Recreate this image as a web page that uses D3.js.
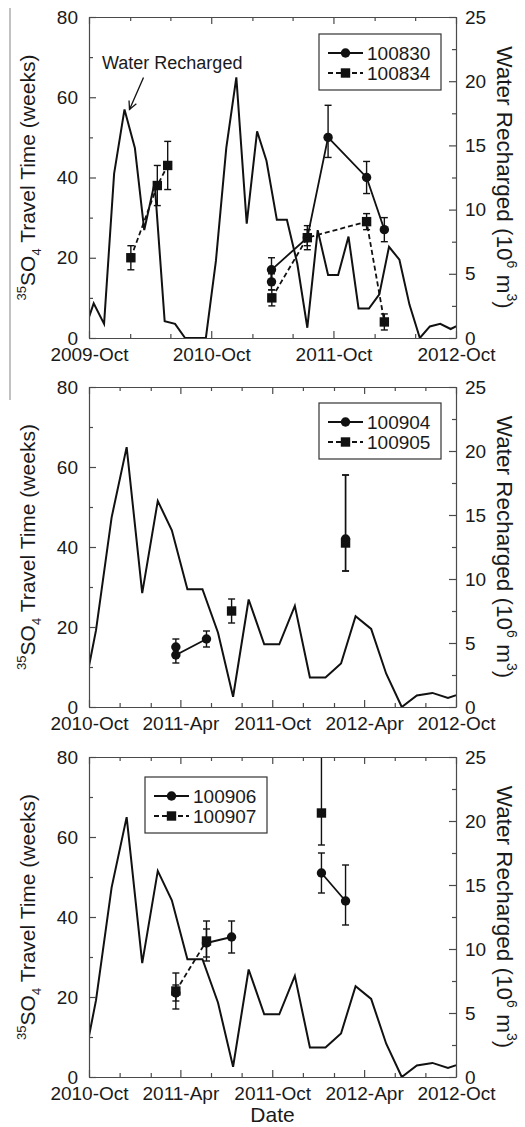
<!DOCTYPE html>
<html>
<head>
<meta charset="utf-8">
<script src="https://cdn.jsdelivr.net/npm/d3@7"></script>
<style>
  body { margin: 0; background: #fff; }
  svg text { font-family: "Liberation Sans", Arial, sans-serif; fill: #1a1a1a; }
</style>
</head>
<body>
<svg id="chart" width="525" height="1127"></svg>
<script>
// Monthly water recharged (10^6 m^3), one value per month (plotted mid-month)
const rechargeMonths = [
  "2009-09", "2009-10", "2009-11", "2009-12", "2010-01", "2010-02", "2010-03", "2010-04",
  "2010-05", "2010-06", "2010-07", "2010-08", "2010-09", "2010-10", "2010-11", "2010-12",
  "2011-01", "2011-02", "2011-03", "2011-04", "2011-05", "2011-06", "2011-07", "2011-08",
  "2011-09", "2011-10", "2011-11", "2011-12", "2012-01", "2012-02", "2012-03", "2012-04",
  "2012-05", "2012-06", "2012-07", "2012-08", "2012-09", "2012-10"
];
const rechargeValues = [
  0.4, 2.7, 1.1, 12.8, 17.8, 14.8, 8.4, 12.1,
  1.3, 1.1, 0, 0, 0, 6.0, 14.8, 20.3,
  8.9, 16.1, 13.8, 9.2, 9.2, 5.8, 0.8, 8.4,
  4.9, 4.9, 7.9, 2.3, 2.3, 3.4, 7.1, 6.1,
  2.6, 0, 0.9, 1.1, 0.7, 1.1
];

// 35SO4 travel time (weeks); null splits a line
const dates100830 = ["2011-03-30", "2011-03-30", "2011-07-15", "2011-09-15", "2012-01-08", "2012-03-01"];
const weeks100830 = [14, 17, 25, 50, 40, 27];
const lo100830 = [12, 14, 23, 45, 36, 24];
const hi100830 = [16, 20, 27, 58, 44, 30];

const dates100834 = ["2010-02-03", "2010-04-23", "2010-05-24", null, "2011-03-31", "2011-07-15", "2012-01-08", "2012-03-01"];
const weeks100834 = [20, 38, 43, null, 10, 25, 29, 4];
const lo100834 = [17, 33, 37, null, 8, 22, 27, 2];
const hi100834 = [23, 43, 49, null, 12, 28, 31, 6];

const dates100904 = ["2011-03-23", "2011-03-23", "2011-05-23", null, "2012-02-24"];
const weeks100904 = [15, 13, 17, null, 42];
const lo100904 = [13, 11, 15, null, 34];
const hi100904 = [17, 15, 19, null, 58];

const dates100905 = ["2011-07-12", null, "2012-02-24"];
const weeks100905 = [24, null, 41];
const lo100905 = [21, null, 34];
const hi100905 = [27, null, 58];

const dates100906 = ["2011-03-23", null, "2011-05-23", "2011-07-12", null, "2012-01-07", "2012-02-24"];
const weeks100906 = [21, null, 33.5, 35, null, 51, 44];
const lo100906 = [19, null, 30, 31, null, 46, 38];
const hi100906 = [23, null, 37, 39, null, 56, 53];

const dates100907 = ["2011-03-23", "2011-05-23", null, "2012-01-07"];
const weeks100907 = [21.5, 34, null, 66];
const lo100907 = [17, 29, null, 58];
const hi100907 = [26, 39, null, 88];

const parse = d3.timeParse("%Y-%m-%d");
const fmt = d3.timeFormat("%Y-%b");

const recharge = rechargeMonths.map((m, i) => ({ date: parse(m + "-15"), value: rechargeValues[i] }));

function makeSeries(name, shape, dates, vals, lo, hi) {
  return {
    name, shape,
    points: dates.map((d, i) => d === null ? null : { date: parse(d), value: vals[i], lo: lo[i], hi: hi[i] })
  };
}

const panels = [
  { top: 17, bottom: 338, start: "2009-10-01", end: "2012-10-01", tickStep: 4, labelStep: 12, legend: [319, 34],
    series: [makeSeries("100830", "circle", dates100830, weeks100830, lo100830, hi100830),
             makeSeries("100834", "square", dates100834, weeks100834, lo100834, hi100834)], note: true },
  { top: 387, bottom: 707, start: "2010-10-01", end: "2012-10-01", tickStep: 2, labelStep: 6, legend: [319, 403],
    series: [makeSeries("100904", "circle", dates100904, weeks100904, lo100904, hi100904),
             makeSeries("100905", "square", dates100905, weeks100905, lo100905, hi100905)] },
  { top: 757, bottom: 1077, start: "2010-10-01", end: "2012-10-01", tickStep: 2, labelStep: 6, legend: [145, 777],
    series: [makeSeries("100906", "circle", dates100906, weeks100906, lo100906, hi100906),
             makeSeries("100907", "square", dates100907, weeks100907, lo100907, hi100907)] }
];

const L = 89, R = 456;
const svg = d3.select("#chart");
const axisColor = "#4a4a4a";
const ink = "#111";

// stray scan line at the left edge of the original figure
svg.append("line").attr("x1", 10).attr("x2", 10).attr("y1", 8).attr("y2", 400)
  .attr("stroke", "#999").attr("stroke-width", 1.2);

const defs = svg.append("defs");
defs.append("marker").attr("id", "arrow")
  .attr("viewBox", "-10 -6 12 12").attr("refX", 0).attr("refY", 0)
  .attr("markerWidth", 12).attr("markerHeight", 12)
  .attr("markerUnits", "userSpaceOnUse").attr("orient", "auto")
  .append("path").attr("d", "M-8,-4L0,0L-8,4")
  .attr("fill", "none").attr("stroke", ink).attr("stroke-width", 1.3);

function drawMarker(sel, shape, cx, cy) {
  if (shape === "circle") {
    sel.append("circle").attr("cx", cx).attr("cy", cy).attr("r", 4.7).attr("fill", ink);
  } else {
    sel.append("rect").attr("x", cx - 4.7).attr("y", cy - 4.7)
      .attr("width", 9.4).attr("height", 9.4).attr("fill", ink);
  }
}

panels.forEach((p, pi) => {
  const g = svg.append("g");
  const start = parse(p.start), end = parse(p.end);
  const x = d3.scaleTime().domain([start, end]).range([L, R]);
  const y = d3.scaleLinear().domain([0, 80]).range([p.bottom, p.top]);
  const y2 = d3.scaleLinear().domain([0, 25]).range([p.bottom, p.top]);

  const clipId = "clip" + pi;
  defs.append("clipPath").attr("id", clipId)
    .append("rect").attr("x", L).attr("y", p.top).attr("width", R - L).attr("height", p.bottom - p.top);

  const plot = g.append("g").attr("clip-path", `url(#${clipId})`);

  // recharge line
  plot.append("path").datum(recharge)
    .attr("fill", "none").attr("stroke", ink).attr("stroke-width", 2)
    .attr("stroke-linejoin", "miter")
    .attr("d", d3.line().x(d => x(d.date)).y(d => y2(d.value)));

  const line = d3.line().defined(d => d !== null).x(d => x(d.date)).y(d => y(d.value));

  p.series.forEach(s => {
    plot.append("path").datum(s.points)
      .attr("fill", "none").attr("stroke", ink).attr("stroke-width", 1.8)
      .attr("stroke-dasharray", s.shape === "square" ? "5,3" : null)
      .attr("d", line);
  });

  p.series.forEach(s => {
    s.points.filter(d => d !== null).forEach(d => {
      const cx = x(d.date);
      const eb = plot.append("g").attr("stroke", ink).attr("stroke-width", 1.4);
      eb.append("line").attr("x1", cx).attr("x2", cx).attr("y1", y(d.lo)).attr("y2", y(d.hi));
      [d.lo, d.hi].forEach(v => {
        eb.append("line").attr("x1", cx - 3.5).attr("x2", cx + 3.5).attr("y1", y(v)).attr("y2", y(v));
      });
    });
  });

  p.series.forEach(s => {
    s.points.filter(d => d !== null).forEach(d => drawMarker(plot, s.shape, x(d.date), y(d.value)));
  });

  // axes
  const ticks = d3.timeMonth.range(start, d3.timeDay.offset(end, 1)).filter((d, i) => i % p.tickStep === 0);
  const isMajor = d => d3.timeMonth.count(start, d) % p.labelStep === 0;

  const styleAxis = a => {
    a.attr("font-size", 19).attr("font-family", "Liberation Sans, Arial, sans-serif");
    a.select(".domain").attr("stroke", axisColor).attr("stroke-width", 1.2);
    a.selectAll(".tick line").attr("stroke", axisColor).attr("stroke-width", 1.2);
    a.selectAll(".tick text").attr("fill", "#1a1a1a");
  };

  const bottom = g.append("g").attr("transform", `translate(0,${p.bottom})`)
    .call(d3.axisBottom(x).tickValues(ticks).tickSizeInner(-4).tickSizeOuter(0).tickPadding(10)
      .tickFormat(d => isMajor(d) ? fmt(d) : ""));
  bottom.call(styleAxis);
  bottom.selectAll(".tick line").attr("y2", d => isMajor(d) ? -7 : -4);

  const topAx = g.append("g").attr("transform", `translate(0,${p.top})`)
    .call(d3.axisTop(x).tickValues(ticks).tickSizeInner(-4).tickSizeOuter(0).tickFormat(""));
  topAx.call(styleAxis);
  topAx.selectAll(".tick line").attr("y2", d => isMajor(d) ? 7 : 4);

  const left = g.append("g").attr("transform", `translate(${L},0)`)
    .call(d3.axisLeft(y).tickValues(d3.range(0, 81, 10)).tickSizeInner(-4).tickSizeOuter(0).tickPadding(11)
      .tickFormat(d => d % 20 === 0 ? d : ""));
  left.call(styleAxis);
  left.selectAll(".tick line").attr("x2", d => d % 20 === 0 ? 7 : 4);

  const right = g.append("g").attr("transform", `translate(${R},0)`)
    .call(d3.axisRight(y2).tickValues(d3.range(0, 25.01, 2.5)).tickSizeInner(-4).tickSizeOuter(0).tickPadding(9)
      .tickFormat(d => d % 5 === 0 ? d : ""));
  right.call(styleAxis);
  right.selectAll(".tick line").attr("x2", d => d % 5 === 0 ? -7 : -4);

  // axis titles
  const mid = (p.top + p.bottom) / 2;
  const lt = g.append("text").attr("transform", `translate(35,${mid}) rotate(-90)`)
    .attr("text-anchor", "middle").attr("font-size", 21);
  lt.append("tspan").attr("font-size", 13).attr("dy", -9).text("35");
  lt.append("tspan").attr("dy", 9).text("SO");
  lt.append("tspan").attr("font-size", 13).attr("dy", 6).text("4");
  lt.append("tspan").attr("dy", -6).text(" Travel Time (weeks)");

  const rt = g.append("text").attr("transform", `translate(497,${mid}) rotate(90)`)
    .attr("text-anchor", "middle").attr("font-size", 22.5);
  rt.append("tspan").text("Water Recharged (10");
  rt.append("tspan").attr("font-size", 14).attr("dy", -10).text("6");
  rt.append("tspan").attr("dy", 10).text(" m");
  rt.append("tspan").attr("font-size", 14).attr("dy", -10).text("3");
  rt.append("tspan").attr("dy", 10).text(")");

  // legend
  const [lx, ly] = p.legend;
  const lg = g.append("g");
  lg.append("rect").attr("x", lx).attr("y", ly).attr("width", 122).attr("height", 56)
    .attr("fill", "#fff").attr("stroke", "#333").attr("stroke-width", 1.2);
  p.series.forEach((s, i) => {
    const cy = ly + 19 + i * 20;
    lg.append("line").attr("x1", lx + 9).attr("x2", lx + 44).attr("y1", cy).attr("y2", cy)
      .attr("stroke", ink).attr("stroke-width", 1.8)
      .attr("stroke-dasharray", s.shape === "square" ? "5,3" : null);
    drawMarker(lg, s.shape, lx + 26.5, cy);
    lg.append("text").attr("x", lx + 48).attr("y", cy).attr("dy", "0.36em")
      .attr("font-size", 19).text(s.name);
  });

  // annotation pointing at the recharge peak
  if (p.note) {
    const peak = recharge.filter(d => d.date >= start).reduce((a, b) => (b.value > a.value && b.date < parse("2010-06-01")) ? b : a);
    const tipX = x(peak.date) + 5, tipY = y2(peak.value);
    g.append("line").attr("x1", tipX + 14).attr("y1", tipY - 32).attr("x2", tipX).attr("y2", tipY)
      .attr("stroke", ink).attr("stroke-width", 1.3).attr("marker-end", "url(#arrow)");
    g.append("text").attr("x", 102).attr("y", 69).attr("font-size", 18).text("Water Recharged");
  }

  if (pi === panels.length - 1) {
    g.append("text").attr("x", (L + R) / 2).attr("y", 1122).attr("text-anchor", "middle")
      .attr("font-size", 21).text("Date");
  }
});
</script>
</body>
</html>
